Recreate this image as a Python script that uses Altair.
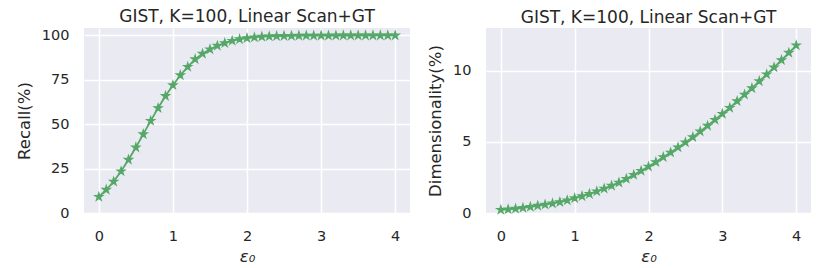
import altair as alt
import pandas as pd

eps = [0.0, 0.1, 0.2, 0.3, 0.4, 0.5, 0.6, 0.7, 0.8, 0.9,
       1.0, 1.1, 1.2, 1.3, 1.4, 1.5, 1.6, 1.7, 1.8, 1.9,
       2.0, 2.1, 2.2, 2.3, 2.4, 2.5, 2.6, 2.7, 2.8, 2.9,
       3.0, 3.1, 3.2, 3.3, 3.4, 3.5, 3.6, 3.7, 3.8, 3.9, 4.0]
recall = [9.1, 13.1, 17.7, 23.5, 30.0, 36.9, 44.4, 51.9, 59.1, 65.9,
          72.0, 77.6, 82.3, 86.6, 89.7, 92.2, 94.2, 95.7, 97.0, 97.9,
          98.5, 98.9, 99.3, 99.5, 99.6, 99.7, 99.8, 99.85, 99.9, 99.9,
          99.95, 99.95, 99.97, 99.98, 99.98, 99.99, 99.99, 100.0, 100.0, 100.0, 100.0]
dimensionality = [0.22, 0.26, 0.30, 0.36, 0.43, 0.51, 0.59, 0.67, 0.77, 0.89,
                  1.04, 1.18, 1.34, 1.52, 1.71, 1.92, 2.14, 2.40, 2.68, 2.96,
                  3.26, 3.58, 3.93, 4.25, 4.61, 4.96, 5.33, 5.73, 6.13, 6.55,
                  6.97, 7.39, 7.86, 8.32, 8.77, 9.26, 9.74, 10.23, 10.74, 11.26, 11.78]
title_text = "GIST, K=100, Linear Scan+GT"
x_ticks = [0, 1, 2, 3, 4]
recall_ticks = [0, 25, 50, 75, 100]
dim_ticks = [0, 5, 10]

df = pd.DataFrame({"eps": eps, "recall": recall, "dim": dimensionality})

GREEN = "#55A868"
TEXT = "#262626"
STAR = ("M0,-1 L0.2245,-0.309 L0.951,-0.309 L0.363,0.118 L0.588,0.809 "
        "L0,0.382 L-0.588,0.809 L-0.363,0.118 L-0.951,-0.309 L-0.2245,-0.309 Z")


def panel(field, ylabel, ydomain, yticks, width):
    x = alt.X("eps:Q", title="ε₀",
              scale=alt.Scale(domain=[-0.2, 4.2], nice=False, zero=False),
              axis=alt.Axis(values=x_ticks, format="d"))
    y = alt.Y(f"{field}:Q", title=ylabel,
              scale=alt.Scale(domain=ydomain, nice=False, zero=False),
              axis=alt.Axis(values=yticks, format="d"))
    base = alt.Chart(df)
    line = base.mark_line(color=GREEN, strokeWidth=1.8).encode(x=x, y=y)
    pts = base.mark_point(shape=STAR, filled=True, color=GREEN, size=70,
                          opacity=1, stroke=GREEN, strokeWidth=1.2).encode(x=x, y=y)
    return (line + pts).properties(
        width=width, height=185,
        title=alt.TitleParams(title_text, anchor="middle", frame="group",
                              fontSize=17, font="DejaVu Sans", color=TEXT,
                              fontWeight="normal", offset=1),
    )


left = panel("recall", "Recall(%)", [0, 104.2], recall_ticks, 326)
right = panel("dim", "Dimensionality(%)", [0, 13.0], dim_ticks, 325)

chart = alt.hconcat(left, right, spacing=17).properties(
    padding={"left": 8, "top": 0, "right": 0, "bottom": 0}
).configure_view(
    fill="#EAEAF2", stroke=None
).configure_axis(
    grid=True, gridColor="white", gridWidth=1.5, gridOpacity=1,
    domain=False, ticks=False, tickSize=0,
    labelFont="DejaVu Sans", labelFontSize=14.5, labelColor=TEXT,
    titleFont="DejaVu Sans", titleFontSize=16.5, titleColor=TEXT,
    titleFontWeight="normal",
).configure_axisY(
    labelPadding=15, titlePadding=9,
).configure_axisX(
    labelPadding=16, titlePadding=6, titleFontStyle="italic",
)

chart.save("out.html", embed_options={"renderer": "svg", "actions": False})
